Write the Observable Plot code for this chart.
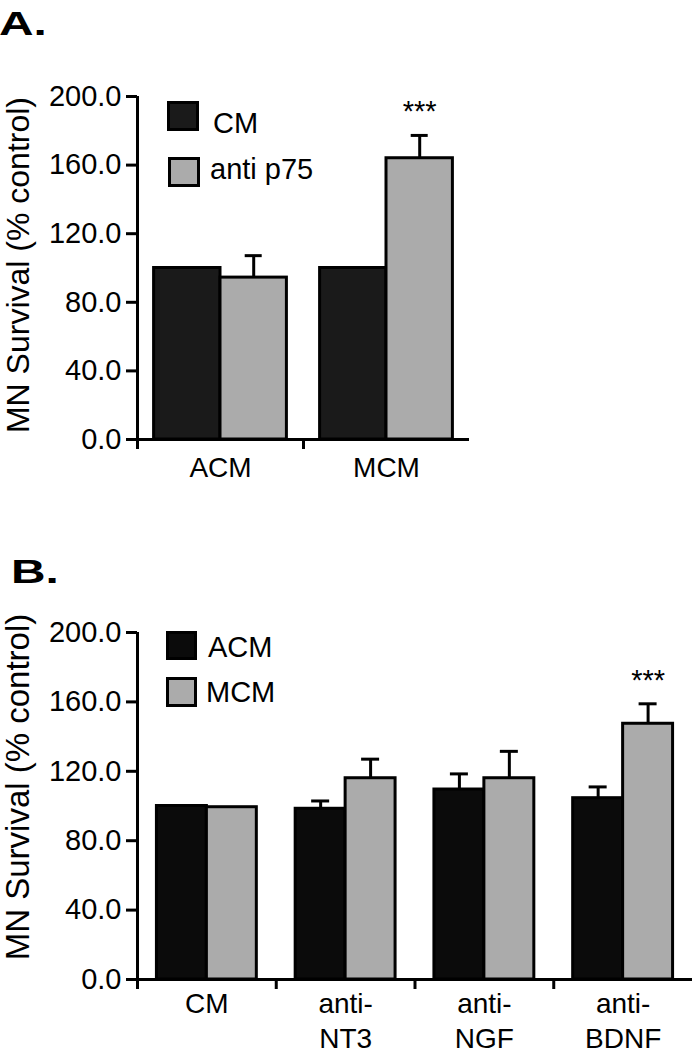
<!DOCTYPE html>
<html><head><meta charset="utf-8">
<script src="https://cdn.jsdelivr.net/npm/d3@7"></script>
<script src="https://cdn.jsdelivr.net/npm/@observablehq/plot@0.6"></script>
<style>
html,body{margin:0;padding:0;background:#fff;overflow:hidden;}
#root{position:relative;width:695px;height:1050px;font-family:"Liberation Sans",Arial,sans-serif;color:#000;}
.panel{position:absolute;left:0;}
.plabel{position:absolute;font-weight:bold;font-size:33px;line-height:33px;transform:scaleX(1.45);transform-origin:0 0;white-space:nowrap;}
.sw{position:absolute;box-sizing:border-box;border:3px solid #000;}
.lt{position:absolute;font-size:29px;line-height:29px;white-space:nowrap;}
</style></head>
<body><div id="root"></div>
<script>
// ---------- Panel A data ----------
const catsA = ["ACM", "MCM"];
const seriesA = ["CM", "anti p75"];
const valsA_CM = [100, 100];
const valsA_p75 = [94.4, 164.0];
const errA_CM = [0, 0];
const errA_p75 = [12.8, 13.3];
const sigA_CM = ["", ""];
const sigA_p75 = ["", "***"];

// ---------- Panel B data ----------
const catsB = ["CM", "anti-\nNT3", "anti-\nNGF", "anti-\nBDNF"];
const seriesB = ["ACM", "MCM"];
const valsB_ACM = [100, 98.4, 109.5, 104.5];
const valsB_MCM = [99.3, 116, 116, 147.4];
const errB_ACM = [0, 4.5, 9, 6.5];
const errB_MCM = [0, 11, 15.5, 11.5];
const sigB_ACM = ["", "", "", ""];
const sigB_MCM = ["", "", "", "***"];

const yTicks = [0, 40, 80, 120, 160, 200];
const yTitle = "MN Survival (% control)";

const FONT = '"Liberation Sans", Arial, sans-serif';

function panel(cfg) {
  const n = cfg.cats.length;
  const rows = [];
  cfg.series.forEach((s, si) => {
    cfg.cats.forEach((c, i) => {
      const v = cfg.vals[si][i], e = cfg.errs[si][i];
      rows.push({
        s: si, cat: c,
        x1: i + 0.5 + (si - 1) * cfg.w,
        x2: i + 0.5 + si * cfg.w,
        xc: i + 0.5 + (si - 0.5) * cfg.w,
        v, e, top: v + e, sig: cfg.sigs[si][i]
      });
    });
  });
  const errRows = rows.filter(d => d.e > 0);
  const sigRows = rows.filter(d => d.sig);
  const labRows = cfg.cats.map((c, i) => ({label: c, xc: i + 0.5, y0: 0}));
  const step = (cfg.width - cfg.marginLeft - cfg.marginRight) / n;
  const hw = cfg.capPx / 2 / step;

  return Plot.plot({
    width: cfg.width,
    height: cfg.height,
    marginTop: cfg.marginTop,
    marginBottom: cfg.marginBottom,
    marginLeft: cfg.marginLeft,
    marginRight: cfg.marginRight,
    style: {fontFamily: FONT, background: "transparent", overflow: "visible", color: "#000"},
    x: {type: "linear", domain: [0, n], axis: null},
    y: {domain: [0, 200], axis: null},
    marks: [
      Plot.rectY(rows.filter(d => d.s === 0), {x1: "x1", x2: "x2", y1: 0, y2: "v", fill: cfg.colors[0], stroke: "#000", strokeWidth: 3}),
      Plot.rectY(rows.filter(d => d.s === 1), {x1: "x1", x2: "x2", y1: 0, y2: "v", fill: cfg.colors[1], stroke: "#000", strokeWidth: 3}),
      Plot.ruleX(errRows, {x: "xc", y1: "v", y2: "top", stroke: "#000", strokeWidth: 3}),
      Plot.ruleY(errRows, {y: "top", x1: d => d.xc - hw, x2: d => d.xc + hw, stroke: "#000", strokeWidth: 3}),
      Plot.text(sigRows, {x: "xc", y: "top", text: "sig", lineAnchor: "bottom", dy: -14, fontSize: 29, fill: "#000"}),
      Plot.ruleX([0], {y1: 0, y2: 200, stroke: "#000", strokeWidth: 3}),
      Plot.ruleY([0], {stroke: "#000", strokeWidth: 3}),
      Plot.axisY({ticks: yTicks, tickFormat: d => d.toFixed(1), tickSize: 11, tickPadding: 5, fontSize: 29, strokeWidth: 3, label: null}),
      Plot.axisX({ticks: d3.range(n), tickSize: 10, tickFormat: () => "", strokeWidth: 3, label: null}),
      Plot.text(labRows, {x: "xc", y: "y0", text: "label", lineAnchor: "top", lineHeight: 1.25, dy: cfg.labelDy, fontSize: 28, fill: "#000"}),
      Plot.text([yTitle], {frameAnchor: "left", textAnchor: "middle", rotate: -90, dx: -109, dy: cfg.titleDy, lineAnchor: "bottom", fontSize: cfg.titleSize, fill: "#000"})
    ]
  });
}

const root = document.getElementById("root");

function place(el, top) {
  const d = document.createElement("div");
  d.className = "panel";
  d.style.top = top + "px";
  d.appendChild(el);
  root.appendChild(d);
}
function addLabel(txt, left, top) {
  const d = document.createElement("div");
  d.className = "plabel";
  d.textContent = txt;
  d.style.left = left + "px";
  d.style.top = top + "px";
  root.appendChild(d);
}
function addSwatch(fill, left, top, w, h) {
  const d = document.createElement("div");
  d.className = "sw";
  d.style.left = left + "px"; d.style.top = top + "px";
  d.style.width = w + "px"; d.style.height = h + "px";
  d.style.background = fill;
  root.appendChild(d);
}
function addLegendText(txt, left, top) {
  const d = document.createElement("div");
  d.className = "lt";
  d.textContent = txt;
  d.style.left = left + "px"; d.style.top = top + "px";
  root.appendChild(d);
}

const blackA = "#1a1a1a", blackB = "#0b0b0b", grey = "#ababab";

// Panel A
place(panel({
  cats: catsA, series: seriesA,
  vals: [valsA_CM, valsA_p75], errs: [errA_CM, errA_p75], sigs: [sigA_CM, sigA_p75],
  colors: [blackA, grey], w: 0.4, capPx: 17,
  width: 695, height: 500, marginTop: 96, marginBottom: 61, marginLeft: 137, marginRight: 226,
  labelDy: 13, titleDy: -3, titleSize: 32
}), 0);
addLabel("A.", -1, 7);
addSwatch(blackA, 167, 101, 32, 30);
addSwatch(grey, 168, 157, 32, 30);
addLegendText(seriesA[0], 213, 108.5);
addLegendText(seriesA[1], 210, 154.5);

// Panel B
place(panel({
  cats: catsB, series: seriesB,
  vals: [valsB_ACM, valsB_MCM], errs: [errB_ACM, errB_MCM], sigs: [sigB_ACM, sigB_MCM],
  colors: [blackB, grey], w: 0.36, capPx: 18,
  width: 695, height: 530, marginTop: 112, marginBottom: 71, marginLeft: 137, marginRight: 3,
  labelDy: 9, titleDy: -19, titleSize: 33
}), 520);
addLabel("B.", 11, 555);
addSwatch(blackB, 166, 631, 31, 29);
addSwatch(grey, 166, 677, 31, 30);
addLegendText(seriesB[0], 208, 632.5);
addLegendText(seriesB[1], 206, 677.5);
</script>
</body></html>
